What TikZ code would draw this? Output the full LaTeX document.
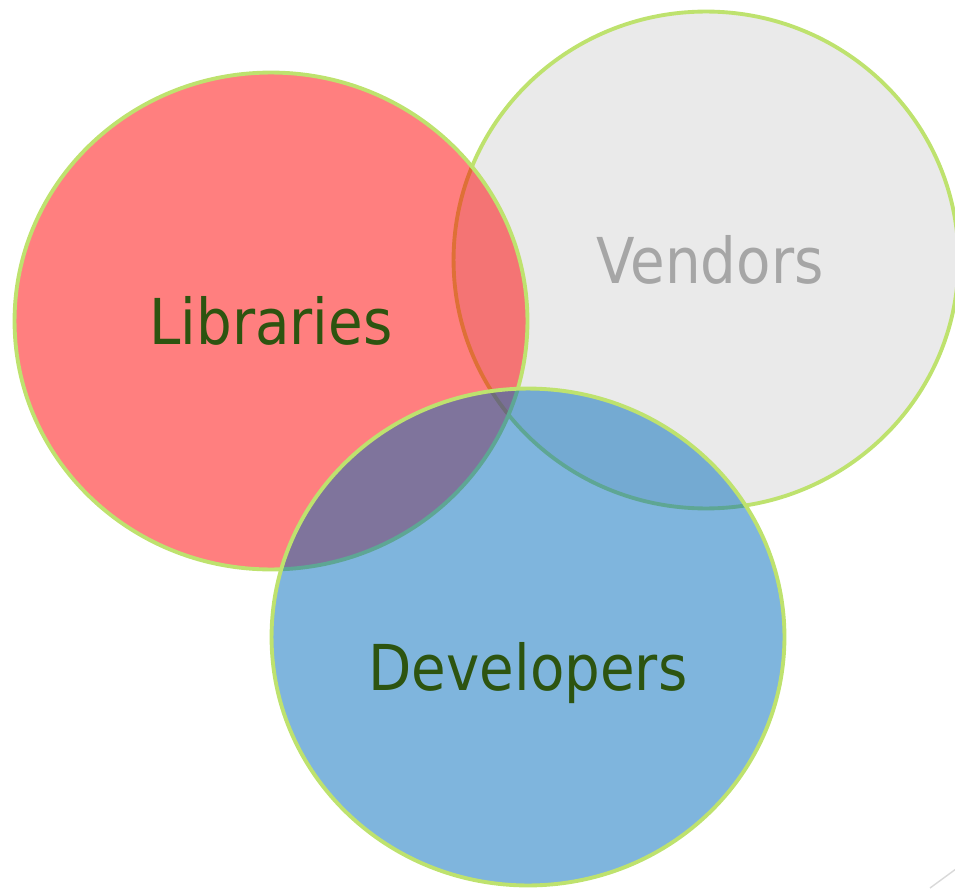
\documentclass[tikz,border=0pt]{standalone}
\usepackage{fontspec}
\setmainfont{DejaVu Sans}[FakeStretch=0.89]
\usetikzlibrary{shapes.geometric}
\definecolor{rimGreen}{RGB}{190,226,110}
\definecolor{labelGreen}{RGB}{45,84,16}
\definecolor{labelGray}{RGB}{166,166,166}
\definecolor{libRed}{RGB}{255,0,0}
\definecolor{vendGray}{RGB}{213,213,213}
\definecolor{devBlue}{RGB}{0,107,187}

\begin{document}
\begin{tikzpicture}[x=0.02cm, y=-0.02cm,
        group/.style={ellipse, draw=rimGreen, line width=2.2pt, fill opacity=0.5,
            draw opacity=1, minimum width=10.26cm, minimum height=9.94cm, inner sep=0pt},
        groupName/.style={font=\fontsize{36}{40}\selectfont, text=labelGreen}]
        \useasboundingbox (0, 0) rectangle (955, 888);
        \node[group, fill=vendGray, minimum width=10.1cm] (vendors) at (706, 260) {};
        \node[group, fill=libRed] (libraries) at (271, 321) {};
        \node[group, fill=devBlue] (developers) at (528, 637) {};
        \node[groupName] (librariesName) at (libraries.center) {Libraries};
        \node[groupName, text=labelGray] (vendorsName) at ([xshift=0.08cm]vendors.center) {Vendors};
        \node[groupName] (developersName) at ([yshift=-0.72cm]developers.center) {Developers};
        \draw[black!15, line width=0.8pt] (930, 888) -- (960, 866);
    \end{tikzpicture}
\end{document}
